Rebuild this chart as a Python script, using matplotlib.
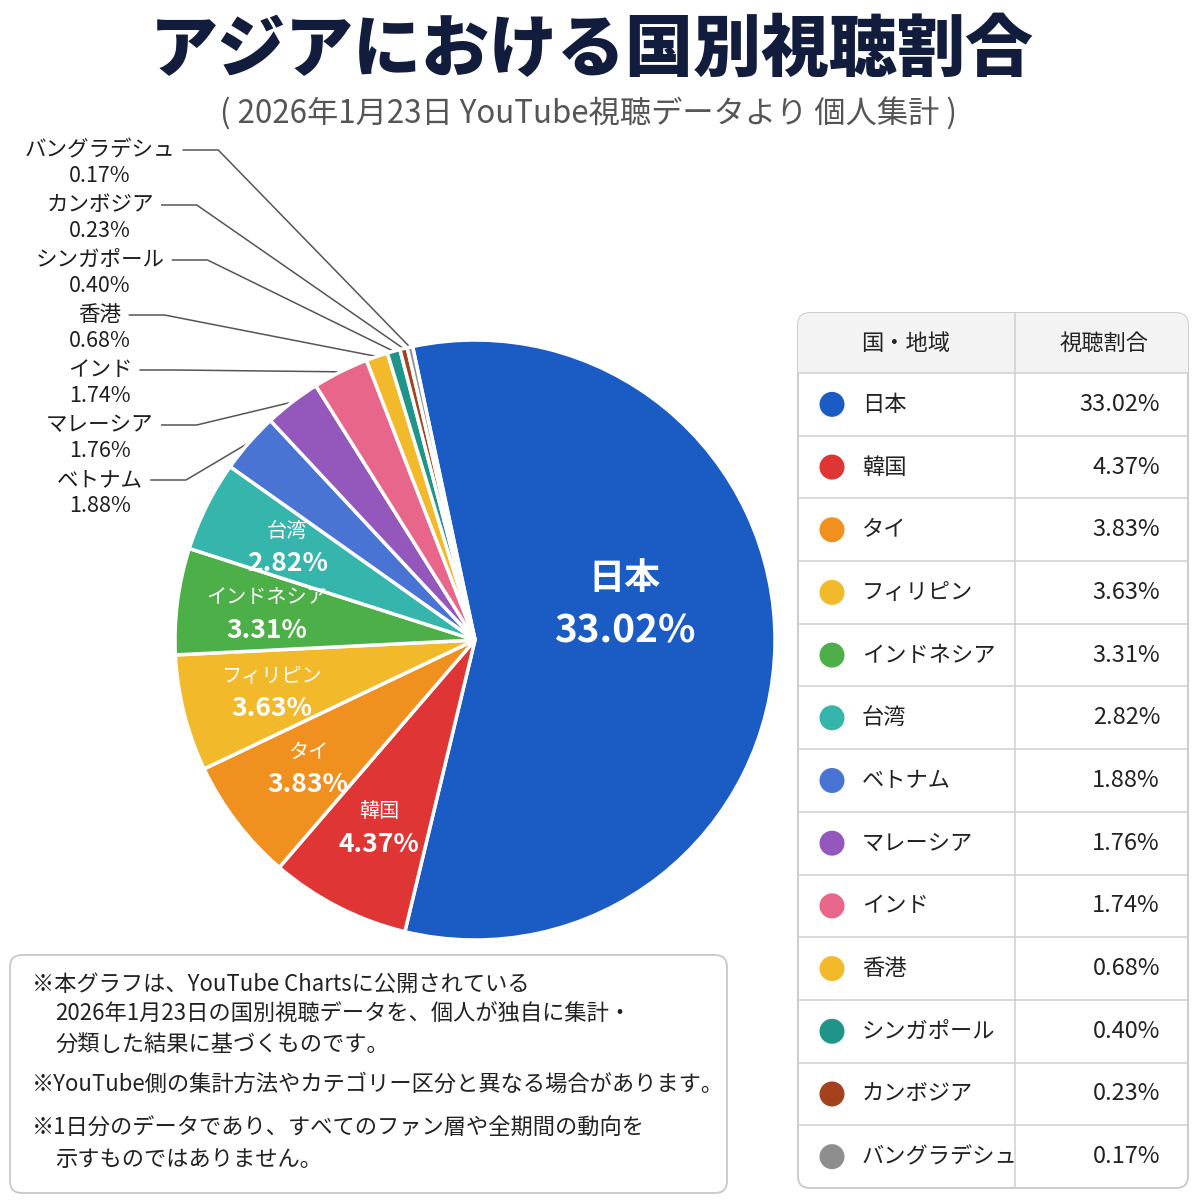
import numpy as np
import matplotlib.pyplot as plt
from matplotlib.patches import FancyBboxPatch, Rectangle, Circle

plt.rcParams['font.family'] = ['Noto Sans CJK JP', 'DejaVu Sans']

# data
countries = ['日本', '韓国', 'タイ', 'フィリピン', 'インドネシア', '台湾', 'ベトナム',
             'マレーシア', 'インド', '香港', 'シンガポール', 'カンボジア', 'バングラデシュ']
shares = [33.02, 4.37, 3.83, 3.63, 3.31, 2.82, 1.88, 1.76, 1.74, 0.68, 0.40, 0.23, 0.17]
colors = ['#1a5bc4', '#e03535', '#f0901f', '#f2b92a', '#4caf47', '#35b5ac', '#4a74d4',
          '#9457bb', '#e8668a', '#f2b92a', '#1f9488', '#a3421c', '#8e8e8e']

title = 'アジアにおける国別視聴割合'
subtitle = '( 2026年1月23日 YouTube視聴データより 個人集計 )'
table_header = ['国・地域', '視聴割合']
notes = [
    ('※本グラフは、YouTube Chartsに公開されている', 0),
    ('2026年1月23日の国別視聴データを、個人が独自に集計・', 1),
    ('分類した結果に基づくものです。', 1),
    ('※YouTube側の集計方法やカテゴリー区分と異なる場合があります。', 0),
    ('※1日分のデータであり、すべてのファン層や全期間の動向を', 0),
    ('示すものではありません。', 1),
]

fig = plt.figure(figsize=(12, 12), dpi=100)
fig.patch.set_facecolor('white')

# overlay axes in pixel coords (y down)
ov = fig.add_axes([0, 0, 1, 1])
ov.set_xlim(0, 1200)
ov.set_ylim(1200, 0)
ov.axis('off')

ov.text(592, 50, title, ha='center', va='center', fontsize=49, fontweight='heavy', color='#121c3d')
ov.text(588, 114, subtitle, ha='center', va='center', fontsize=22.5, color='#555555')

# pie
CX, CY, R = 475, 640, 300
axp = fig.add_axes([(CX - R) / 1200, 1 - (CY + R) / 1200, 2 * R / 1200, 2 * R / 1200])
wedges, _ = axp.pie(shares, colors=colors, startangle=102, counterclock=False, radius=1,
                    wedgeprops=dict(edgecolor='white', linewidth=2.5))
axp.set_xlim(-1, 1)
axp.set_ylim(-1, 1)
axp.set_aspect('equal')
axp.axis('off')

small = []
for i, (w, name, v) in enumerate(zip(wedges, countries, shares)):
    mid = np.deg2rad((w.theta1 + w.theta2) / 2)
    if i == 0:
        x, y = 0.5 * np.cos(mid), 0.5 * np.sin(mid) + 0.12
        axp.text(x, y + 0.09, name, ha='center', va='center', fontsize=26, fontweight='bold', color='white')
        axp.text(x, y - 0.085, f'{v:.2f}%', ha='center', va='center', fontsize=28, fontweight='bold', color='white')
    elif v >= 2:
        x, y = 0.7 * np.cos(mid), 0.7 * np.sin(mid)
        axp.text(x, y + 0.05, name, ha='center', va='center', fontsize=14.5, color='white')
        axp.text(x, y - 0.058, f'{v:.2f}%', ha='center', va='center', fontsize=19, fontweight='bold', color='white')
    else:
        small.append((i, mid))

# outside labels, top to bottom
small = small[::-1]
label_texts = []
for k, (i, mid) in enumerate(small):
    ly = 150 + k * 55
    t = ov.text(100, ly, countries[i], ha='center', va='center', fontsize=15.5, color='#1e1e1e')
    ov.text(100, ly + 26, f'{shares[i]:.2f}%', ha='center', va='center', fontsize=15.5, color='#1e1e1e')
    label_texts.append((t, ly, mid))

fig.canvas.draw()
renderer = fig.canvas.get_renderer()
for t, ly, mid in label_texts:
    bb = t.get_window_extent(renderer)
    x0 = bb.x1 + 8
    px = CX + R * np.cos(mid)
    py = CY - R * np.sin(mid)
    ov.plot([x0, x0 + 35, px], [ly, ly, py], color='#555555', lw=1.1)

# table
TX0, TX1, TY0, TY1 = 798, 1188, 313, 1188
SPLIT = 1015
HEAD_H = 60
row_h = (TY1 - TY0 - HEAD_H) / len(countries)
outer = FancyBboxPatch((TX0, TY0), TX1 - TX0, TY1 - TY0, boxstyle='round,pad=0,rounding_size=12',
                       fc='white', ec='#c8c8c8', lw=1.3, zorder=1)
ov.add_patch(outer)
head = Rectangle((TX0, TY0), TX1 - TX0, HEAD_H, fc='#f3f3f3', ec='none', zorder=1.5)
ov.add_patch(head)
head.set_clip_path(outer)
ov.plot([SPLIT, SPLIT], [TY0, TY1], color='#cfcfcf', lw=1.1, zorder=2)
for k in range(len(countries)):
    yl = TY0 + HEAD_H + k * row_h
    ov.plot([TX0, TX1], [yl, yl], color='#cfcfcf', lw=1.1, zorder=2)
ov.text(906, TY0 + HEAD_H / 2, table_header[0], ha='center', va='center', fontsize=16, color='#222222', zorder=3)
ov.text(1104, TY0 + HEAD_H / 2, table_header[1], ha='center', va='center', fontsize=16, color='#222222', zorder=3)
for k, (name, v, c) in enumerate(zip(countries, shares, colors)):
    yc = TY0 + HEAD_H + (k + 0.5) * row_h
    ov.add_patch(Circle((832, yc), 12.5, fc=c, ec='none', zorder=3))
    ov.text(862, yc, name, ha='left', va='center', fontsize=16, color='#222222', zorder=3)
    ov.text(1160, yc, f'{v:.2f}%', ha='right', va='center', fontsize=17, color='#222222', zorder=3)

# note box
ov.add_patch(FancyBboxPatch((10, 955), 717, 238, boxstyle='round,pad=0,rounding_size=12',
                            fc='white', ec='#c8c8c8', lw=1.3))
note_y = [984, 1014, 1045, 1084, 1128, 1159]
for (line, indent), y in zip(notes, note_y):
    ov.text(32 + indent * 23, y, line, ha='left', va='center', fontsize=16, color='#222222')

fig.savefig('out.png', dpi=100)
